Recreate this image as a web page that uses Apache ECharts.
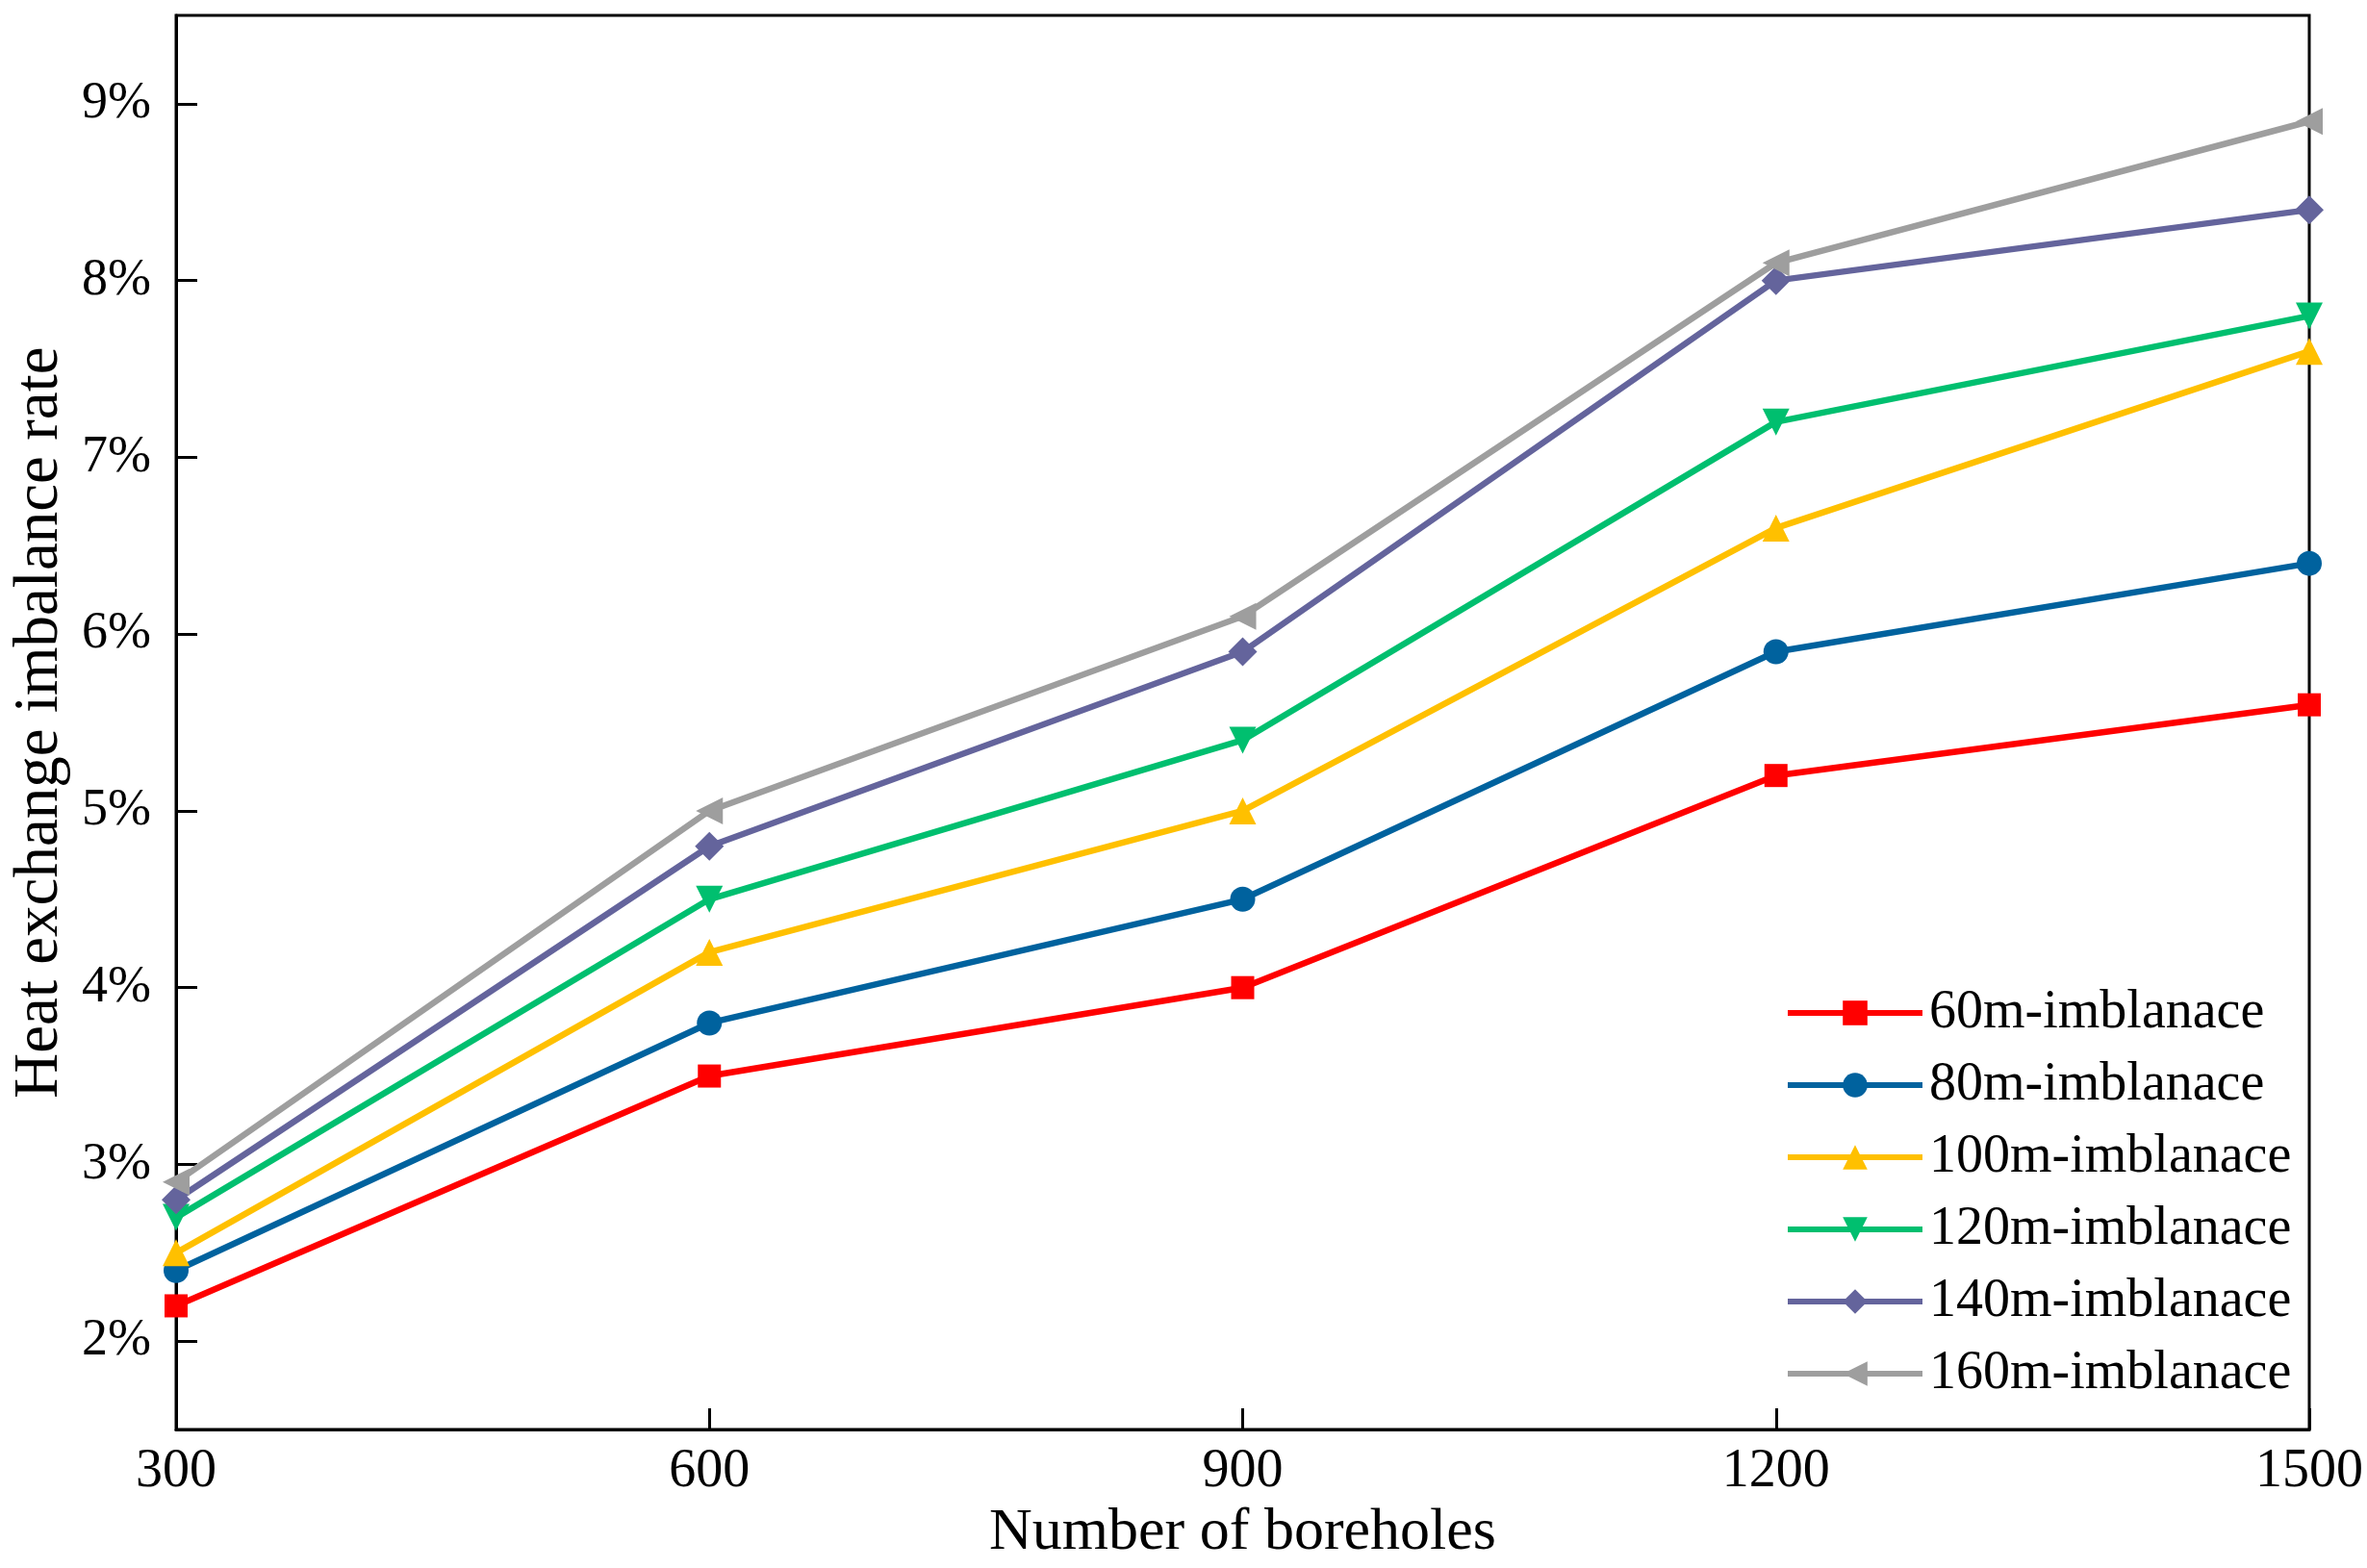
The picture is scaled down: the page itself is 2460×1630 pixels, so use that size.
<!DOCTYPE html>
<html>
<head>
<meta charset="utf-8">
<script src="https://cdn.jsdelivr.net/npm/echarts@6/dist/echarts.min.js"></script>
<style>
html,body{margin:0;padding:0;background:#fff;}
#chart{width:2460px;height:1630px;}
</style>
</head>
<body>
<div id="chart"></div>
<script>
const boreholes = [300, 600, 900, 1200, 1500];
const seriesNames = ['60m-imblanace','80m-imblanace','100m-imblanace','120m-imblanace','140m-imblanace','160m-imblanace'];
const v60  = [2.2, 3.5, 4.0, 5.2, 5.6];
const v80  = [2.4, 3.8, 4.5, 5.9, 6.4];
const v100 = [2.5, 4.2, 5.0, 6.6, 7.6];
const v120 = [2.7, 4.5, 5.4, 7.2, 7.8];
const v140 = [2.8, 4.8, 5.9, 8.0, 8.4];
const v160 = [2.9, 5.0, 6.1, 8.1, 8.9];
const yTicks = [2, 3, 4, 5, 6, 7, 8, 9];
const xTicks = [300, 600, 900, 1200, 1500];

const values = [v60, v80, v100, v120, v140, v160];
const colors = ['#FF0000', '#00629E', '#FFC000', '#00BF6F', '#64649C', '#9E9E9E'];
const symbols = ['rect', 'circle', 'triangle', 'triangle', 'diamond', 'triangle'];
const rotates = [0, 0, 0, 180, 0, 90];
const sizes = [24, 26, 28, 28, 30, 28];

const font = 'Liberation Serif';
const chart = echarts.init(document.getElementById('chart'));
chart.setOption({
  backgroundColor: '#fff',
  animation: false,
  grid: { left: 183, right: 60, top: 16, bottom: 140, show: true, borderColor: '#000', borderWidth: 3, backgroundColor: 'transparent' },
  legend: {
    orient: 'vertical',
    left: 1850,
    top: 1020,
    itemWidth: 140,
    itemHeight: 32,
    itemGap: 19,
    lineStyle: { width: 6 },
    textStyle: { fontFamily: font, fontSize: 56, lineHeight: 56, color: '#000', padding: [0, 0, 0, 2] },
    data: seriesNames
  },
  xAxis: {
    type: 'value',
    min: 300, max: 1500, interval: 300,
    name: 'Number of boreholes',
    nameLocation: 'middle',
    nameGap: 76,
    nameTextStyle: { fontFamily: font, fontSize: 62, color: '#000' },
    axisLine: { show: true, lineStyle: { color: '#000', width: 3 } },
    axisTick: { show: true, inside: true, length: 22, lineStyle: { color: '#000', width: 3 } },
    axisLabel: { fontFamily: font, fontSize: 56, color: '#000', margin: 16,
      customValues: xTicks, formatter: v => String(v) },
    splitLine: { show: false }
  },
  yAxis: {
    type: 'value',
    min: 1.5, max: 9.5,
    name: 'Heat exchange imbalance rate',
    nameLocation: 'middle',
    nameGap: 108,
    nameTextStyle: { fontFamily: font, fontSize: 65, color: '#000' },
    axisLine: { show: true, lineStyle: { color: '#000', width: 3 } },
    axisTick: { show: true, inside: true, length: 22, lineStyle: { color: '#000', width: 3 }, customValues: yTicks },
    axisLabel: { fontFamily: font, fontSize: 54, color: '#000', margin: 26,
      customValues: yTicks, formatter: v => v + '%' },
    splitLine: { show: false }
  },
  series: seriesNames.map((n, i) => ({
    name: n,
    type: 'line',
    data: boreholes.map((b, j) => [b, values[i][j]]),
    symbol: symbols[i],
    symbolRotate: rotates[i],
    symbolSize: sizes[i],
    showAllSymbol: true,
    clip: false,
    lineStyle: { color: colors[i], width: 6.5 },
    itemStyle: { color: colors[i] },
    z: 2 + i
  }))
});
</script>
</body>
</html>
